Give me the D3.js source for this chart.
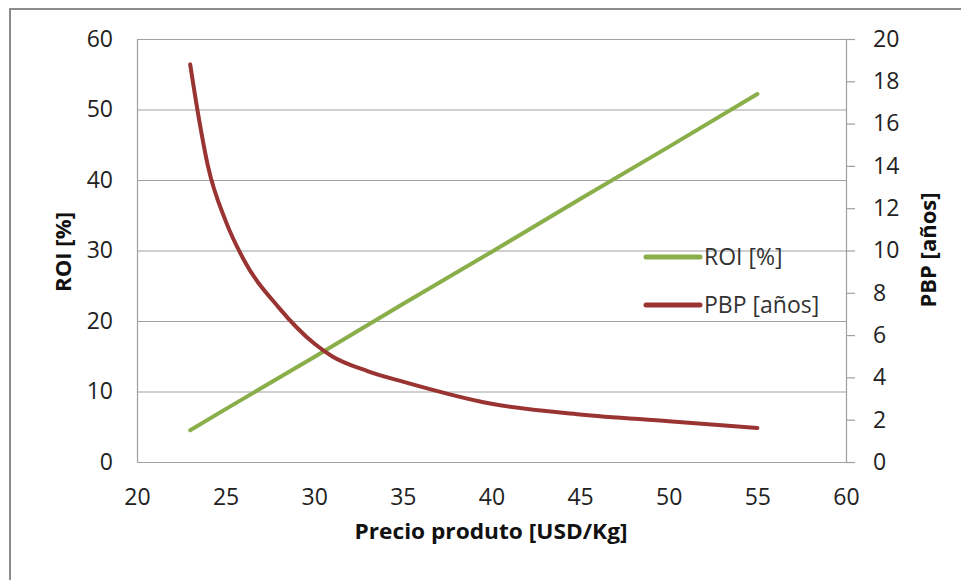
<!DOCTYPE html>
<html>
<head>
<meta charset="utf-8">
<script src="https://cdn.jsdelivr.net/npm/d3@7"></script>
<style>
  body { margin: 0; background: #fff; }
  svg { display: block; }
  .axis text { font-family: "Open Sans", sans-serif; font-size: 23px; fill: #222; }
  .title { font-family: "Open Sans", sans-serif; font-size: 22px; font-weight: bold; fill: #111; }
  .legend text { font-family: "Open Sans", sans-serif; font-size: 23px; fill: #333; }
</style>
</head>
<body>
<svg id="chart"></svg>
<script>
// Data
const roiPrice = [23, 25, 30, 35, 40, 45, 50, 55];
const roiValues = [4.5, 7.5, 14.9, 22.4, 29.8, 37.3, 44.7, 52.2];

const pbpPrice = [23, 23.5, 24, 25, 26, 28, 30, 31, 33, 35, 40, 45, 50, 55];
const pbpValues = [18.8, 16.2, 14.0, 11.4, 9.6, 7.3, 5.6, 5.0, 4.3, 3.8, 2.75, 2.25, 1.93, 1.61];

const priceTicks = [20, 25, 30, 35, 40, 45, 50, 55, 60];
const roiTicks = [0, 10, 20, 30, 40, 50, 60];
const pbpTicks = [0, 2, 4, 6, 8, 10, 12, 14, 16, 18, 20];

const seriesNames = ["ROI [%]", "PBP [años]"];
const colors = ["#8aae4a", "#9a3432"];

const W = 961, H = 580;
const margin = { top: 39, right: 115, bottom: 118, left: 137 },
  width = W - margin.left - margin.right,
  height = H - margin.top - margin.bottom;

const root = d3.select("#chart")
  .attr("width", W)
  .attr("height", H);

// Chart frame
root.append("rect")
  .attr("x", 10)
  .attr("y", 9)
  .attr("width", W)
  .attr("height", H)
  .attr("fill", "none")
  .attr("stroke", "#8c8c8c")
  .attr("stroke-width", 2);

const svg = root.append("g")
  .attr("transform", `translate(${margin.left},${margin.top})`);

// Scales
const x = d3.scaleLinear().domain([20, 60]).range([0, width]);
const yL = d3.scaleLinear().domain([0, 60]).range([height, 0]);
const yR = d3.scaleLinear().domain([0, 20]).range([height, 0]);

// Gridlines
svg.append("g")
  .call(d3.axisLeft(yL).tickValues(roiTicks).tickSize(-width).tickFormat(""))
  .call(g => g.select(".domain").remove())
  .call(g => g.selectAll("line").attr("stroke", "#a0a0a0").attr("stroke-width", 1.2));

// Left axis
svg.append("g")
  .attr("class", "axis")
  .call(d3.axisLeft(yL).tickValues(roiTicks).tickSize(0).tickPadding(24))
  .call(g => g.select(".domain").attr("stroke", "#a0a0a0").attr("stroke-width", 1.2));

// Bottom axis
svg.append("g")
  .attr("class", "axis")
  .attr("transform", `translate(0,${height})`)
  .call(d3.axisBottom(x).tickValues(priceTicks).tickSize(0))
  .call(g => g.select(".domain").attr("stroke", "#a0a0a0").attr("stroke-width", 1.2))
  .call(g => g.selectAll("text").attr("y", 35).attr("dy", "0.35em"));

// Right axis
svg.append("g")
  .attr("class", "axis")
  .attr("transform", `translate(${width},0)`)
  .call(d3.axisRight(yR).tickValues(pbpTicks).tickSize(9).tickPadding(18))
  .call(g => g.select(".domain").attr("stroke", "#a0a0a0").attr("stroke-width", 1.2))
  .call(g => g.selectAll("line").attr("stroke", "#a0a0a0").attr("stroke-width", 1.2));

// Lines
const roiLine = d3.line()
  .x((d, i) => x(roiPrice[i]))
  .y(d => yL(d));

const pbpLine = d3.line()
  .curve(d3.curveMonotoneX)
  .x((d, i) => x(pbpPrice[i]))
  .y(d => yR(d));

svg.append("path")
  .attr("fill", "none")
  .attr("stroke", colors[0])
  .attr("stroke-width", 4)
  .attr("stroke-linecap", "round")
  .attr("d", roiLine(roiValues));

svg.append("path")
  .attr("fill", "none")
  .attr("stroke", colors[1])
  .attr("stroke-width", 4)
  .attr("stroke-linecap", "round")
  .attr("d", pbpLine(pbpValues));

// Axis titles
root.append("text")
  .attr("class", "title")
  .attr("x", 491)
  .attr("y", 539)
  .attr("text-anchor", "middle")
  .attr("textLength", 273)
  .attr("lengthAdjust", "spacingAndGlyphs")
  .text("Precio produto [USD/Kg]");

root.append("text")
  .attr("class", "title")
  .attr("transform", "translate(71,252) rotate(-90)")
  .attr("text-anchor", "middle")
  .attr("textLength", 80)
  .attr("lengthAdjust", "spacingAndGlyphs")
  .text("ROI [%]");

root.append("text")
  .attr("class", "title")
  .attr("transform", "translate(936,250) rotate(-90)")
  .attr("text-anchor", "middle")
  .attr("textLength", 115)
  .attr("lengthAdjust", "spacingAndGlyphs")
  .text("PBP [años]");

// Legend
const legend = root.append("g")
  .attr("class", "legend")
  .attr("transform", "translate(646,257)");

legend.selectAll("line")
  .data(seriesNames)
  .enter()
  .append("line")
  .attr("x1", 0)
  .attr("x2", 54)
  .attr("y1", (d, i) => i * 48)
  .attr("y2", (d, i) => i * 48)
  .attr("stroke", (d, i) => colors[i])
  .attr("stroke-width", 5)
  .attr("stroke-linecap", "round");

legend.selectAll("text")
  .data(seriesNames)
  .enter()
  .append("text")
  .attr("x", 58)
  .attr("y", (d, i) => i * 48)
  .attr("dy", "0.35em")
  .text(d => d);
</script>
</body>
</html>
